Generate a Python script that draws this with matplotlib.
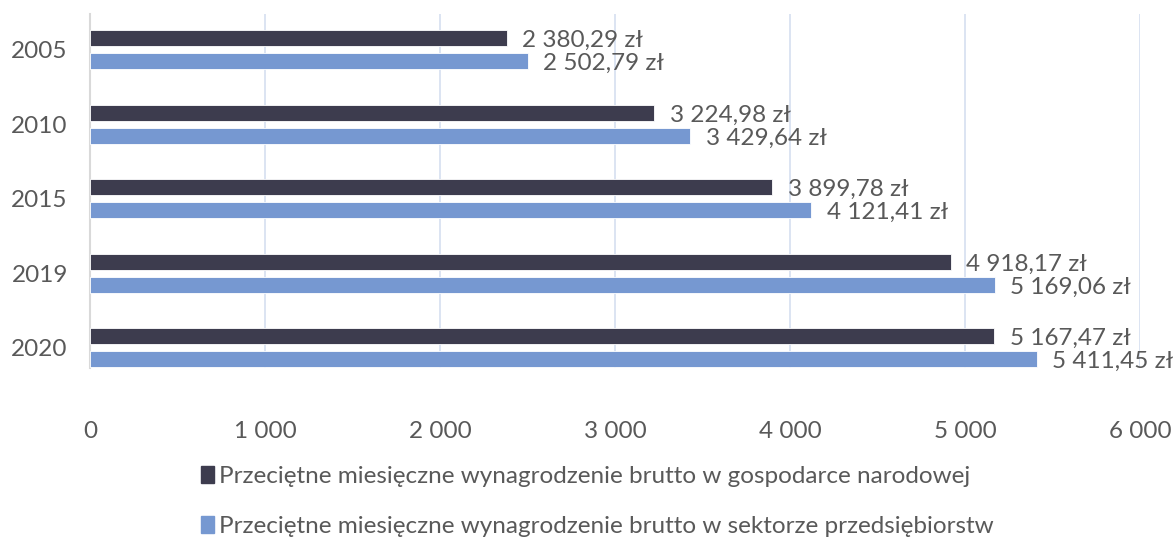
import numpy as np
import matplotlib.pyplot as plt
from matplotlib.ticker import FuncFormatter, MultipleLocator
from matplotlib.patches import Patch

plt.rcParams['font.family'] = ['Lato', 'DejaVu Sans']

# data
years = ["2005", "2010", "2015", "2019", "2020"]
gosp = [2380.29, 3224.98, 3899.78, 4918.17, 5167.47]
przeds = [2502.79, 3429.64, 4121.41, 5169.06, 5411.45]
labels = ["Przeciętne miesięczne wynagrodzenie brutto w gospodarce narodowej",
          "Przeciętne miesięczne wynagrodzenie brutto w sektorze przedsiębiorstw"]

c_dark = "#3d3c4e"
c_blue = "#7698d1"
c_text = "#595959"
fs = 17.5


def pl_money(v):
    s = f"{v:,.2f}".replace(",", " ").replace(".", ",")
    return s + " zł"


fig = plt.figure(figsize=(11.75, 5.37), dpi=100)
ax = fig.add_axes([0.0766, 0.315, 0.8936, 0.659])

y = np.arange(len(years))
h = 0.215
off = 0.155

ax.barh(y - off, gosp, height=h, color=c_dark, edgecolor="white", linewidth=0.6, zorder=3)
ax.barh(y + off, przeds, height=h, color=c_blue, edgecolor="white", linewidth=0.6, zorder=3)

for i in range(len(years)):
    ax.text(gosp[i] + 88, y[i] - off + 0.03, pl_money(gosp[i]), va="center", ha="left",
            fontsize=fs, color=c_text)
    ax.text(przeds[i] + 88, y[i] + off + 0.03, pl_money(przeds[i]), va="center", ha="left",
            fontsize=fs, color=c_text)

ax.set_xlim(0, 6000)
ax.set_ylim(4.27, -0.48)
ax.xaxis.set_major_locator(MultipleLocator(1000))
ax.xaxis.set_major_formatter(FuncFormatter(lambda v, p: f"{int(v):,}".replace(",", " ")))
ax.set_yticks(y)
ax.set_yticklabels(years)

ax.grid(axis="x", color="#d5dff0", linewidth=1.2, zorder=0)
for s in ["top", "right", "bottom"]:
    ax.spines[s].set_visible(False)
ax.spines["left"].set_color("#d9d9d9")
ax.spines["left"].set_linewidth(1.5)
ax.tick_params(length=0, labelsize=fs, labelcolor=c_text)
ax.tick_params(axis="x", pad=38)
ax.tick_params(axis="y", pad=16)

handles = [Patch(color=c_dark), Patch(color=c_blue)]
fig.legend(handles, labels, loc="center left", bbox_to_anchor=(0.171, 0.066), frameon=False,
           fontsize=fs, labelcolor=c_text, handlelength=0.55, handleheight=0.7,
           handletextpad=0.2, labelspacing=1.2, borderpad=0, borderaxespad=0)

fig.savefig("out.png", dpi=100)
